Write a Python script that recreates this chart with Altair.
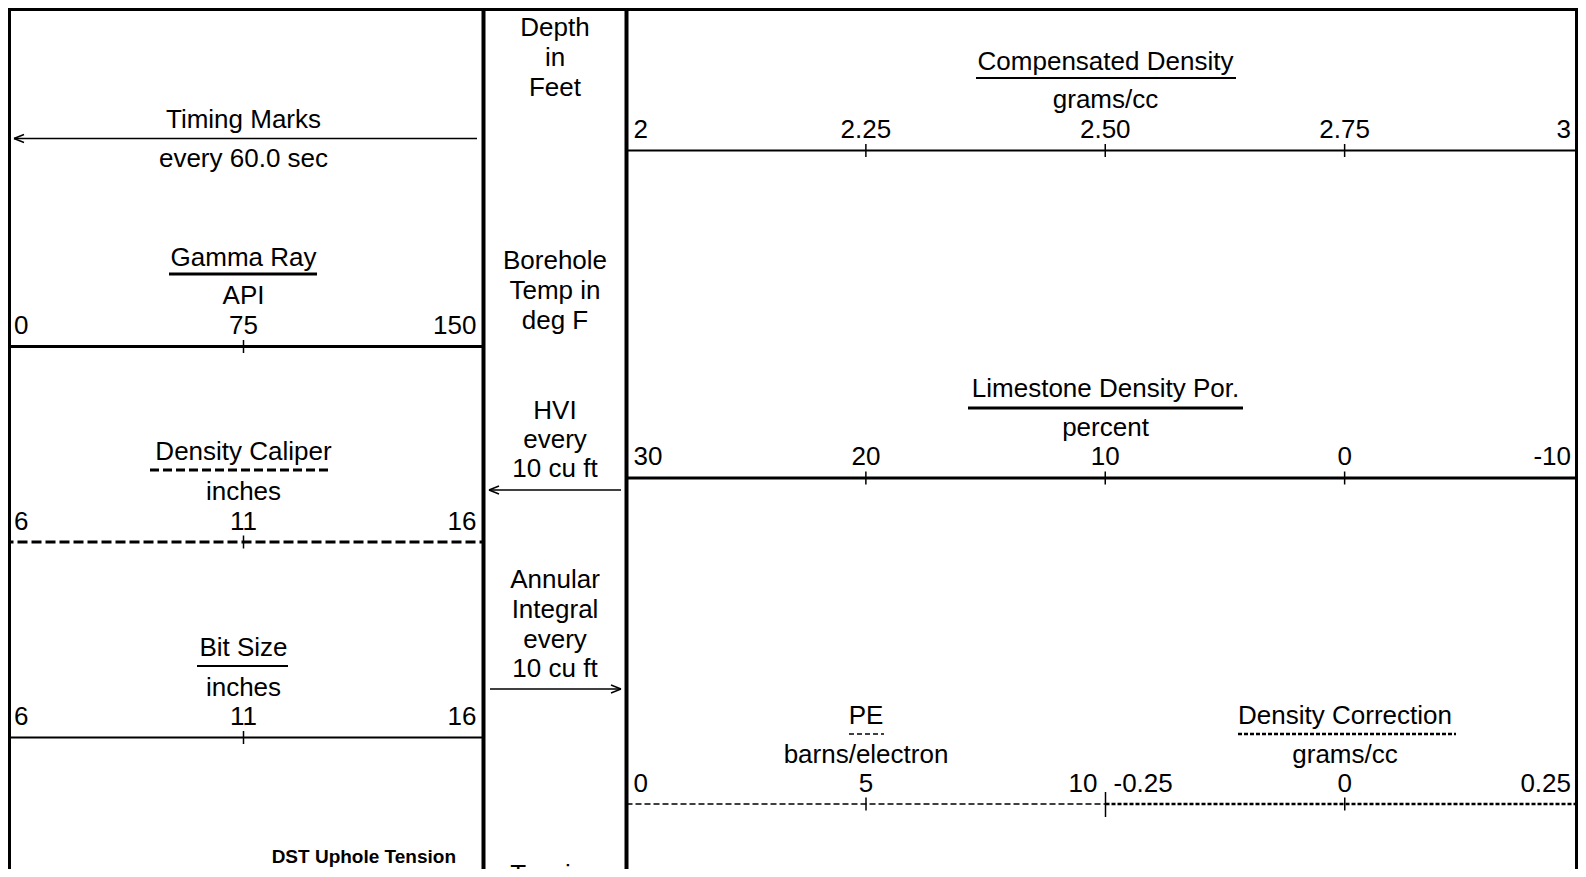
import altair as alt
import pandas as pd

# ---------------- data: curve scales of the log header ----------------
gamma_vals = [0, 75, 150]
gamma_text = ["0", "75", "150"]
caliper_vals = [6, 11, 16]
caliper_text = ["6", "11", "16"]
bit_vals = [6, 11, 16]
bit_text = ["6", "11", "16"]
dens_vals = [2, 2.25, 2.5, 2.75, 3]
dens_text = ["2", "2.25", "2.50", "2.75", "3"]
por_vals = [30, 20, 10, 0, -10]
por_text = ["30", "20", "10", "0", "-10"]
pe_vals = [0, 5, 10]
pe_text = ["0", "5", "10"]
dc_vals = [-0.25, 0, 0.25]
dc_text = ["-0.25", "0", "0.25"]

# heading texts
track1_titles = ["Timing Marks", "every 60.0 sec", "Gamma Ray", "API",
                 "Density Caliper", "inches", "Bit Size", "inches"]
depth_titles = ["Depth", "in", "Feet", "Borehole", "Temp in", "deg F",
                "HVI", "every", "10 cu ft", "Annular", "Integral", "every",
                "10 cu ft", "Tension"]
track3_titles = ["Compensated Density", "grams/cc", "Limestone Density Por.",
                 "percent", "PE", "barns/electron", "Density Correction",
                 "grams/cc"]
footer_text = ["DST Uphole Tension"]

# ---------------- layout (page pixels) ----------------
OFF = 8
W, H = 1570, 861
FONT = "Liberation Sans"
FS = 26

T1 = (3.5, 483.5)      # track 1 x-extent
T2 = (483.5, 626.5)    # depth track
T3 = (626.5, 1584)     # track 3
XC1 = 243.5
XC2 = 555
XC3 = 1105.5

t1_y = [119.5, 159, 257.5, 295.5, 452, 491.5, 648, 688]
d_y = [28.3, 57.7, 88, 261, 291, 320.6, 410.7, 440, 469.3, 579.6, 610,
       640.3, 668.6, 875]
t3_x = [XC3, XC3, XC3, XC3, 866, 866, 1345, 1345]
t3_y = [61.5, 100, 388.5, 428, 716, 755, 716, 755]

layers = []


def p(v):
    return v - OFF


# text headings
txt = pd.DataFrame({
    "t": track1_titles + depth_titles + track3_titles,
    "x": [p(XC1)] * len(track1_titles) + [p(XC2)] * len(depth_titles) + [p(v) for v in t3_x],
    "y": [p(v) for v in t1_y + d_y + t3_y],
})
layers.append(
    alt.Chart(txt).mark_text(font=FONT, fontSize=FS, align="center",
                             baseline="middle", color="black")
    .encode(x=alt.X("x:Q", scale=None), y=alt.Y("y:Q", scale=None), text="t:N")
)
foot = pd.DataFrame({"t": footer_text, "x": [p(456)], "y": [p(857)]})
layers.append(
    alt.Chart(foot).mark_text(font=FONT, fontSize=19, fontWeight="bold",
                              align="right", baseline="middle", color="black")
    .encode(x=alt.X("x:Q", scale=None), y=alt.Y("y:Q", scale=None), text="t:N")
)


def seg_layer(rows, width, dash=None):
    df = pd.DataFrame(rows, columns=["x", "y", "x2", "y2"])
    df = df - OFF
    kw = dict(color="black", strokeWidth=width)
    if dash:
        kw["strokeDash"] = dash
    return alt.Chart(df).mark_rule(**kw).encode(
        x=alt.X("x:Q", scale=None), y=alt.Y("y:Q", scale=None),
        x2="x2:Q", y2="y2:Q")


# frame (outer border drawn at the edge of the visible page)
layers.append(seg_layer([(8, 9.5, 1586, 9.5)], 3))
layers.append(seg_layer([(9.5, 8, 9.5, 890), (1576.5, 8, 1576.5, 890)], 3))
layers.append(seg_layer([(T1[1], 8, T1[1], 890), (T2[1], 8, T2[1], 890)], 4))
# arrows
layers.append(seg_layer([
    (14, 138.5, 477, 138.5), (14, 138.5, 24, 134.5), (14, 138.5, 24, 142.5),
    (489, 490, 621, 490), (489, 490, 499, 486), (489, 490, 499, 494),
    (490, 689, 621, 689), (621, 689, 611, 685), (621, 689, 611, 693),
], 1.5))
# heading underlines
layers.append(seg_layer([(169, 274, 317, 274), (968, 408, 1243, 408)], 3))
layers.append(seg_layer([(197, 666, 288, 666), (976, 78, 1236, 78)], 2))
layers.append(seg_layer([(150, 470, 330, 470)], 3, [9, 4]))
layers.append(seg_layer([(849, 734, 884, 734)], 1.5, [5, 3]))
layers.append(seg_layer([(1238, 734, 1456, 734)], 2.5, [4, 2]))
# boundary tick between PE and Density Correction
layers.append(seg_layer([(1105.5, 792, 1105.5, 817)], 1.5))


def curve(vals, texts, x0, x1, y_text, y_line, lw, dash, dxf, dxl, tick=6.5):
    n = len(vals)
    pos = ["first"] + ["mid"] * (n - 2) + ["last"]
    df = pd.DataFrame({"v": vals, "t": texts, "pos": pos})
    sc = alt.Scale(domain=[vals[0], vals[-1]], range=[p(x0), p(x1)],
                   nice=False, zero=False)
    base = alt.Chart(df).encode(x=alt.X("v:Q", scale=sc, axis=None))
    out = []
    for ps, al, dx in [("first", "left", dxf), ("mid", "center", 0),
                       ("last", "right", dxl)]:
        out.append(
            base.transform_filter(alt.datum.pos == ps)
            .mark_text(font=FONT, fontSize=FS, align=al, baseline="middle",
                       dx=dx, color="black")
            .encode(y=alt.value(p(y_text)), text="t:N"))
    out.append(base.transform_filter(alt.datum.pos == "mid")
               .mark_rule(color="black", strokeWidth=1.5)
               .encode(y=alt.value(p(y_line - tick)), y2=alt.value(p(y_line + tick))))
    kw = dict(color="black", strokeWidth=lw)
    if dash:
        kw["strokeDash"] = dash
    out.append(base.transform_filter(alt.datum.pos != "mid").mark_rule(**kw)
               .encode(x=alt.X("min(v):Q", scale=sc, axis=None), x2="max(v):Q",
                       y=alt.value(p(y_line))))
    return out


layers += curve(gamma_vals, gamma_text, T1[0], T1[1], 326, 346.5, 3, None, 10.5, -7)
layers += curve(caliper_vals, caliper_text, T1[0], T1[1], 522, 542, 3, [10, 4], 10.5, -7)
layers += curve(bit_vals, bit_text, T1[0], T1[1], 717, 737.5, 2, None, 10.5, -7)
layers += curve(dens_vals, dens_text, T3[0], T3[1], 129.5, 150.5, 2, None, 7, -13)
layers += curve(por_vals, por_text, T3[0], T3[1], 457, 478, 3, None, 7, -13)
layers += curve(pe_vals, pe_text, T3[0], XC3, 784, 804, 1.5, [6, 3], 7, -8)
layers += curve(dc_vals, dc_text, XC3, T3[1], 784, 804, 2.5, [4, 2], 8, -13)

chart = (
    alt.layer(*layers)
    .resolve_scale(x="independent")
    .properties(width=W, height=H, padding=0, autosize=alt.AutoSizeParams(type="none"),
                background="white")
    .configure_view(stroke=None)
)

chart.save("out.html", embed_options={"renderer": "svg", "actions": False})
